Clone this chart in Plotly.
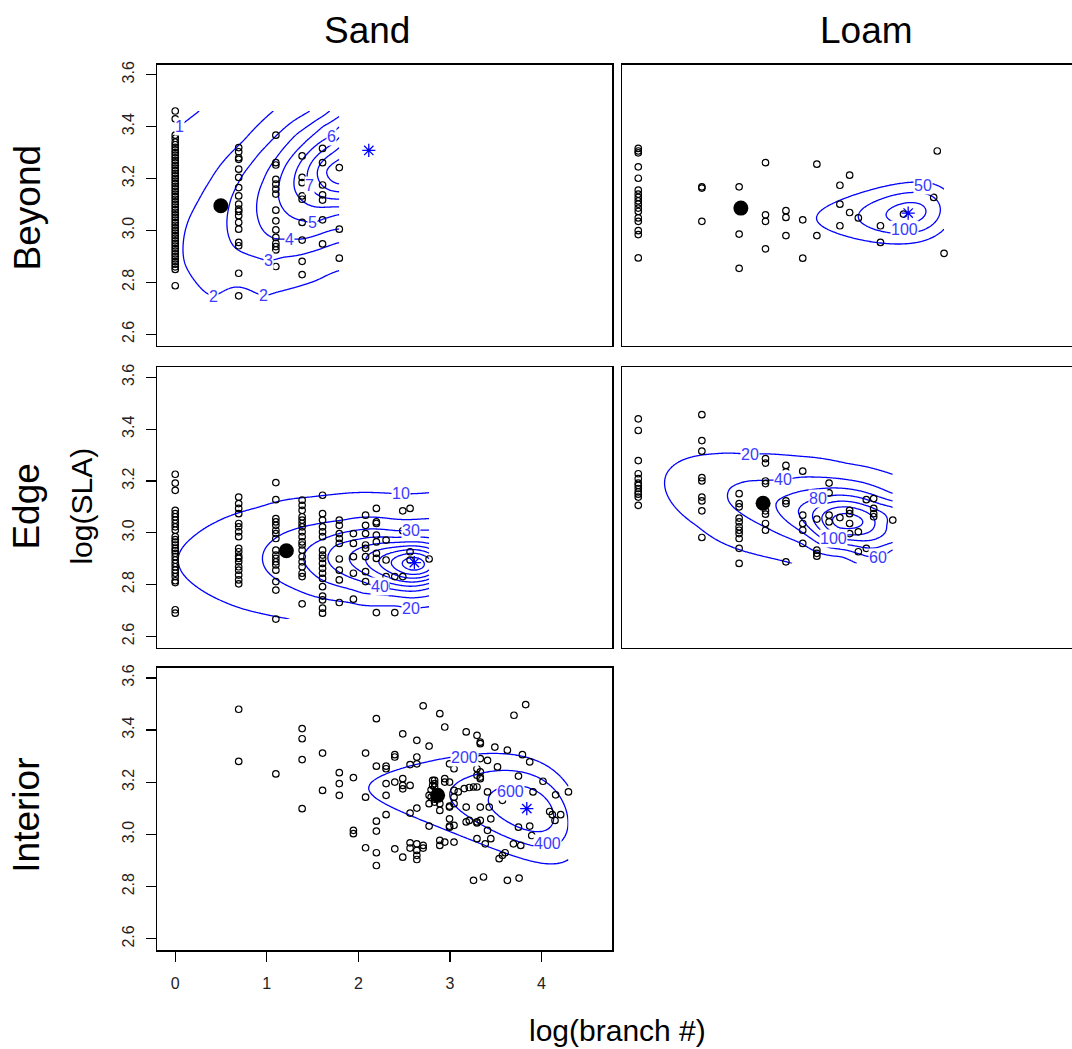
import numpy as np
import plotly.graph_objects as go

# ---------------- data: scatter points (x = log(branch #), y = log(SLA)) ----------------
beyond_sand_cols = {
    0.0: [3.46, 3.43, 3.367, 3.355, 3.34, 3.33, 3.32, 3.31, 3.30, 3.29, 3.28, 3.27, 3.26, 3.25, 3.24,
          3.23, 3.22, 3.21, 3.20, 3.19, 3.18, 3.17, 3.16, 3.15, 3.14, 3.13, 3.12, 3.11, 3.10, 3.09,
          3.08, 3.07, 3.06, 3.05, 3.04, 3.03, 3.02, 3.01, 3.00, 2.99, 2.98, 2.97, 2.96, 2.95, 2.94,
          2.93, 2.92, 2.91, 2.90, 2.89, 2.88, 2.87, 2.86, 2.85, 2.787],
    0.693: [3.319, 3.303, 3.280, 3.274, 3.236, 3.204, 3.165, 3.133, 3.101, 3.082, 3.073, 3.057, 3.031,
            3.005, 2.954, 2.941, 2.835, 2.748],
    1.099: [3.367, 3.261, 3.252, 3.197, 3.178, 3.159, 3.140, 3.078, 3.037, 3.002, 2.973, 2.950, 2.938,
            2.925, 2.861],
    1.386: [3.287, 3.204, 3.184, 3.133, 3.120, 3.031, 2.963, 2.881, 2.830],
    1.609: [3.316, 3.261, 3.175, 3.137, 3.117, 3.041, 2.948],
    1.792: [3.242, 3.005, 2.893],
}
beyond_loam_cols = {
    0.0: [3.316, 3.306, 3.299, 3.245, 3.201, 3.155, 3.140, 3.127, 3.114, 3.101, 3.086, 3.073, 3.048,
          3.035, 2.999, 2.984, 2.894],
    0.693: [3.168, 3.163, 3.035],
    1.099: [3.168, 2.986, 2.854],
    1.386: [3.261, 3.060, 3.035, 2.929],
    1.609: [3.076, 3.050, 2.980],
    1.792: [3.041, 2.893],
    1.946: [3.255, 2.980],
    2.197: [3.174, 3.101, 3.018],
    2.303: [3.213, 3.069],
    2.398: [3.048],
    2.639: [3.018, 2.954],
    2.890: [3.063],
    3.219: [3.127],
    3.258: [3.306],
    3.332: [2.912],
}
edge_sand_cols = {
    0.0: [3.226, 3.192, 3.164, 3.087, 3.074, 3.062, 3.049, 3.036, 3.023, 3.010, 2.985, 2.974, 2.964,
          2.953, 2.940, 2.931, 2.921, 2.908, 2.895, 2.882, 2.869, 2.856, 2.844, 2.831, 2.815, 2.808,
          2.703, 2.690],
    0.693: [3.138, 3.113, 3.094, 3.074, 3.036, 3.023, 3.004, 2.985, 2.940, 2.927, 2.910, 2.901, 2.888,
            2.869, 2.856, 2.837, 2.818, 2.803],
    1.099: [3.194, 3.128, 3.055, 3.042, 3.029, 3.010, 2.997, 2.978, 2.933, 2.914, 2.901, 2.888, 2.876,
            2.856, 2.812, 2.779, 2.667],
    1.386: [3.126, 3.106, 3.087, 3.062, 3.049, 3.036, 3.023, 3.004, 2.985, 2.965, 2.953, 2.933, 2.908,
            2.888, 2.869, 2.844, 2.831, 2.726],
    1.609: [3.145, 3.074, 3.049, 3.023, 3.004, 2.985, 2.933, 2.914, 2.901, 2.882, 2.863, 2.844, 2.824,
            2.792, 2.756, 2.741, 2.709, 2.690],
    1.792: [3.049, 3.029, 2.997, 2.978, 2.959, 2.899, 2.856, 2.818, 2.731],
    1.946: [2.997, 2.959, 2.908, 2.844, 2.744],
    2.079: [3.068, 3.029, 2.997, 2.953, 2.940, 2.908, 2.850, 2.812],
    2.197: [3.094, 3.042, 3.036, 2.991, 2.965, 2.921, 2.901, 2.805, 2.779, 2.692],
    2.303: [2.972, 2.895, 2.831, 2.795],
    2.398: [2.831, 2.692],
    2.485: [3.085, 3.008, 2.831],
    2.565: [3.094, 2.927, 2.895],
    2.773: [2.899],
}
edge_loam_cols = {
    0.0: [3.440, 3.395, 3.279, 3.228, 3.209, 3.192, 3.183, 3.171, 3.158, 3.149, 3.138, 3.106],
    0.693: [3.456, 3.356, 3.315, 3.213, 3.200, 3.138, 3.123, 3.085, 2.982],
    1.099: [3.151, 3.113, 3.100, 3.057, 3.042, 3.023, 3.010, 2.997, 2.978, 2.940, 2.882],
    1.386: [3.286, 3.269, 3.200, 3.190, 3.085, 3.072, 3.036, 3.010],
    1.609: [3.260, 3.235, 3.215, 3.196, 3.123, 3.113, 2.888],
    1.792: [3.238, 3.068, 3.036, 3.010, 2.959],
    1.946: [3.053, 2.933, 2.921, 2.910],
    2.079: [3.192, 3.154, 3.068, 3.042, 2.997],
    2.197: [3.059, 2.997, 2.985],
    2.303: [3.087, 3.074, 3.036, 2.997],
    2.398: [3.004, 2.927],
    2.485: [3.128, 2.940],
    2.565: [3.132, 3.094, 3.074, 3.062],
    2.773: [3.049],
}
interior_sand_cols = {
    0.693: [3.480, 3.280],
    1.099: [3.232],
    1.386: [3.406, 3.367, 3.287, 3.099],
    1.609: [3.312, 3.169],
    1.792: [3.237, 3.195, 3.150],
    1.946: [3.218, 3.016, 3.003],
    2.079: [3.312, 3.143, 2.949],
    2.197: [3.444, 3.262, 3.051, 3.013, 2.930, 2.881],
    2.303: [3.262, 3.252, 3.195, 3.150, 3.076],
    2.398: [3.306, 3.297, 3.201, 2.945],
    2.485: [3.386, 3.214, 3.188, 3.175, 2.913],
    2.565: [3.268, 3.188, 3.082, 2.968, 2.948],
    2.639: [3.361, 3.297, 3.271, 3.101, 2.964, 2.939, 2.920, 2.904],
    2.708: [3.493, 2.958, 2.948],
    2.773: [3.339, 3.150, 3.032, 3.118],
    2.795: [3.171, 3.143],
    2.812: [3.207, 3.188],
    2.833: [3.207, 3.195, 3.182, 3.150, 3.135, 3.124],
    2.890: [3.463, 3.118, 3.092, 2.977, 2.958],
    2.944: [3.412, 3.214, 3.201, 2.971],
    2.996: [3.271, 3.201, 3.109, 3.060, 3.032, 3.105, 3.028],
    3.045: [3.252, 3.169, 3.118, 2.971, 3.143, 3.035],
    3.091: [3.163],
    3.157: [3.176],
    3.178: [3.393, 3.105, 3.048],
    3.212: [3.180, 3.054],
    3.258: [3.182, 2.824],
    3.296: [3.380, 3.252, 3.227, 3.182, 3.048, 2.984, 3.044],
    3.332: [3.354, 3.348, 3.291, 3.220, 3.105, 3.240, 3.214, 3.054],
    3.367: [2.837],
    3.386: [2.964],
    3.411: [3.284, 3.163, 3.016],
    3.430: [3.105],
    3.447: [3.060, 2.984],
    3.491: [3.335],
    3.520: [3.259],
    3.538: [2.907],
    3.574: [2.920, 3.131],
    3.603: [2.930],
    3.628: [3.323, 2.824],
    3.694: [2.964],
    3.700: [3.457],
    3.749: [3.224, 3.028],
    3.756: [2.833],
    3.774: [2.958],
    3.792: [3.306],
    3.828: [3.498],
    3.872: [3.278, 3.032],
    3.894: [2.996],
    3.908: [3.163],
    4.017: [3.204],
    4.028: [2.977],
    4.090: [3.088],
    4.119: [3.076],
    4.148: [3.054],
    4.155: [3.152],
    4.210: [3.076],
    4.295: [3.163],
}

# group means (filled dots) and predicted optima (asterisks)
mean_x = [0.498, 1.118, 1.214, 1.360, 2.866]
mean_y = [3.095, 3.086, 2.931, 3.114, 3.150]
peak_x = [2.114, 2.941, 2.612, 2.280, 3.840]
peak_y = [3.308, 3.067, 2.885, 3.050, 3.099]
show_star = [True, True, True, False, True]

# ---------------- data: fitness contour traces (x, y, level) ----------------
bs_cx = [0.051, 0.153, 0.251,
         0.414, 0.269, 0.106, 0.087, 0.142, 0.251, 0.378, 0.560, 0.741, 1.068, 0.959, 1.104, 1.322, 1.540, 1.795,
         0.887, 0.668, 0.578, 0.567, 0.614, 0.741, 0.923, 1.177, 1.467, 1.024, 1.177, 1.467, 1.795,
         1.104, 0.977, 0.905, 0.894, 0.959, 1.104, 1.322, 1.613, 1.249, 1.395, 1.795,
         1.413, 1.213, 1.133, 1.133, 1.213, 1.395, 1.613, 1.795, 1.504, 1.613, 1.795,
         1.300, 1.704, 1.795, 1.795,
         1.467, 1.795, 1.795,
         1.558, 1.795, 1.795,
         1.650, 1.795, 1.795,
         0.680, 0.000]
bs_cy = [3.402, 3.430, 3.457,
         2.748, 2.782, 2.871, 2.948, 3.037, 3.114, 3.191, 3.280, 3.344, 3.459, 2.749, 2.762, 2.782, 2.807, 2.846,
         2.897, 2.929, 2.986, 3.050, 3.127, 3.216, 3.299, 3.389, 3.459, 2.884, 2.897, 2.916, 2.954,
         2.967, 2.993, 3.044, 3.114, 3.191, 3.280, 3.370, 3.440, 2.967, 2.967, 3.005,
         3.037, 3.069, 3.120, 3.178, 3.255, 3.331, 3.402, 3.440, 3.029, 3.044, 3.063,
         3.165, 3.364, 3.400, 3.090,
         3.172, 3.360, 3.121,
         3.205, 3.320, 3.149,
         3.227, 3.274, 3.178,
         2.750, 2.750]
bs_cz = [1] * 3 + [2] * 15 + [3] * 13 + [4] * 11 + [5] * 11 + [6] * 4 + [7] * 3 + [8] * 3 + [9] * 3 + [1.8, 1.5]

bl_cx = [2.353, 2.941, 2.941, 3.330, 3.330, 3.105,
         2.578, 2.941, 2.905,
         2.731, 2.941, 2.941, 3.213,
         2.833, 2.941, 2.941, 3.058]
bl_cy = [3.069, 3.181, 2.952, 3.178, 2.986, 3.172,
         3.069, 3.140, 3.005,
         3.067, 3.112, 3.027, 3.067,
         3.067, 3.091, 3.044, 3.067]
bl_cz = [50] * 6 + [100] * 3 + [150] * 4 + [200] * 4

es_cx = [2.773, 1.904, 1.468, 0.923, 0.487, 0.196, 0.033, 0.069, 0.233, 0.523, 0.923, 1.250, 2.467,
         2.773, 1.831, 1.468, 1.177, 0.995, 0.952, 0.995, 1.177, 1.468, 1.904, 2.413, 2.576, 2.773,
         2.773, 2.413, 1.685, 1.468, 1.402, 1.468, 1.685, 2.048, 2.773, 2.576,
         2.773, 1.758, 1.667, 1.758, 2.048, 2.237, 2.773,
         2.773, 2.773, 1.904,
         2.773, 2.773, 2.080,
         2.773, 2.773, 2.220,
         2.773, 2.773, 2.360,
         2.480, 2.612]
es_cy = [3.155, 3.154, 3.138, 3.100, 3.049, 2.985, 2.908, 2.850, 2.792, 2.735, 2.690, 2.667, 3.151,
         3.055, 3.049, 3.029, 2.997, 2.946, 2.901, 2.856, 2.805, 2.760, 2.731, 2.718, 2.709, 2.715,
         3.010, 3.008, 2.985, 2.946, 2.901, 2.856, 2.805, 2.767, 2.756, 3.008,
         2.981, 2.953, 2.901, 2.856, 2.812, 2.792, 2.786,
         2.959, 2.805, 2.895,
         2.940, 2.821, 2.893,
         2.921, 2.837, 2.890,
         2.901, 2.856, 2.888,
         2.886, 2.885]
es_cz = [10] * 13 + [20] * 13 + [30] * 10 + [40] * 7 + [50] * 3 + [60] * 3 + [70] * 3 + [80] * 3 + [90, 98]

el_cx = [2.773, 2.288, 1.779, 1.380, 0.834, 0.471, 0.308, 0.290, 0.399, 0.653, 1.016, 1.380, 1.616, 1.216,
         2.773, 1.779, 1.580, 1.198, 0.998, 0.980, 1.125, 1.380, 1.779, 2.215,
         1.507, 2.614, 2.773, 2.773,
         1.743, 1.960, 2.773, 2.773,
         1.900, 2.124, 2.700,
         2.000, 2.580,
         2.120, 2.450,
         2.280]
el_cy = [3.226, 3.267, 3.295, 3.305, 3.305, 3.279, 3.228, 3.177, 3.100, 3.023, 2.946, 2.908, 2.888, 3.303,
         3.151, 3.215, 3.205, 3.200, 3.171, 3.126, 3.074, 3.023, 2.959, 2.908,
         3.119, 2.905, 3.123, 2.937,
         3.081, 3.132, 3.100, 2.960,
         3.070, 2.978, 3.030,
         3.062, 3.040,
         3.056, 3.045,
         3.050]
el_cz = [20] * 14 + [40] * 10 + [60] * 4 + [80] * 4 + [100] * 3 + [120] * 2 + [140] * 2 + [150]

is_cx = [4.300, 4.010, 3.757, 3.393, 3.157, 2.884, 2.630, 2.520, 2.539, 2.630, 2.848, 3.211, 3.575, 3.938, 4.300,
         2.993, 3.284, 3.902, 3.175, 3.538, 4.047, 4.300, 4.064,
         3.266, 3.665, 3.647, 4.190,
         3.684, 4.047, 3.865, 3.865]
is_cy = [3.224, 3.265, 3.291, 3.303, 3.297, 3.306, 3.278, 3.214, 3.150, 3.099, 3.048, 2.984, 2.932, 2.904, 2.892,
         3.182, 3.233, 3.226, 3.079, 3.022, 2.971, 2.958, 2.964,
         3.124, 3.175, 3.054, 3.080,
         3.102, 3.092, 3.121, 3.073]
is_cz = [200] * 15 + [400] * 8 + [600] * 4 + [800] * 4

# how each surface is rebuilt from its traces, and its contour levels (start, end, step)
surface_kind = ["spline", "ellipse", "spline", "spline", "ellipse"]
levels = [(1, 30, 1), (50, 400, 50), (10, 200, 10), (20, 400, 20), (200, 2000, 200)]
labels = [
    [(0.051, 3.402, "1"), (0.414, 2.746, "2"), (0.959, 2.749, "2"), (1.024, 2.884, "3"),
     (1.249, 2.967, "4"), (1.504, 3.029, "5"), (1.704, 3.360, "6"), (1.467, 3.172, "7")],
    [(3.105, 3.172, "50"), (2.905, 3.005, "100")],
    [(2.467, 3.151, "10"), (2.576, 3.008, "30"), (2.237, 2.792, "40"), (2.576, 2.709, "20")],
    [(1.216, 3.303, "20"), (1.580, 3.205, "40"), (1.960, 3.132, "80"), (2.614, 2.905, "60"),
     (2.124, 2.978, "100")],
    [(3.157, 3.297, "200"), (3.666, 3.165, "600"), (4.064, 2.964, "400")],
]

panel_cols = [beyond_sand_cols, beyond_loam_cols, edge_sand_cols, edge_loam_cols, interior_sand_cols]
panel_contours = [(bs_cx, bs_cy, bs_cz), (bl_cx, bl_cy, bl_cz), (es_cx, es_cy, es_cz),
                  (el_cx, el_cy, el_cz), (is_cx, is_cy, is_cz)]

row_labels = ["Beyond", "Edge", "Interior"]
col_labels = ["Sand", "Loam"]
y_ticks = [2.6, 2.8, 3.0, 3.2, 3.4, 3.6]
x_ticks = [0, 1, 2, 3, 4]

# ---------------- layout geometry (pixels) ----------------
W, H = 1072, 1049
col_px = [(157.3, 612.3), (622.3, 1072.0)]
row_px = [(61.7, 343.7), (365.3, 646.7), (666.7, 950.0)]
panel_pos = [(0, 0), (0, 1), (1, 0), (1, 1), (2, 0)]
x_range = [[-0.196, 4.774], [-0.174, 4.726]]
y_range = [2.556, 3.639]
FONT = "Liberation Sans, Arial, sans-serif"
BLUE = "#0000ff"
Y_ASPECT = 2.84  # pixel scale of y relative to x, used for isotropic spline distances


def fit_ellipse(cx, cy, cz, x0, y0, xg, yg):
    u = np.exp(np.asarray(cx, float))
    du = u - np.exp(x0)
    dy = np.asarray(cy, float) - y0
    A = np.column_stack([np.ones_like(du), -du ** 2, -2 * du * dy, -dy ** 2])
    coef, *_ = np.linalg.lstsq(A, np.log(np.asarray(cz, float)), rcond=None)
    U, Y = np.meshgrid(np.exp(xg), yg)
    du = U - np.exp(x0)
    dy = Y - y0
    return np.exp(coef[0] - coef[1] * du ** 2 - 2 * coef[2] * du * dy - coef[3] * dy ** 2)


def tps_kernel(d):
    out = np.zeros_like(d)
    m = d > 0
    out[m] = d[m] ** 2 * np.log(d[m])
    return out


def fit_spline(cx, cy, cz, xg, yg, lam=0.003):
    X = np.asarray(cx, float)
    Y = np.asarray(cy, float) * Y_ASPECT
    T = np.log(np.asarray(cz, float))
    n = len(X)
    K = tps_kernel(np.hypot(X[:, None] - X[None, :], Y[:, None] - Y[None, :]))
    P = np.column_stack([np.ones(n), X, Y])
    A = np.zeros((n + 3, n + 3))
    A[:n, :n] = K + lam * np.eye(n)
    A[:n, n:] = P
    A[n:, :n] = P.T
    sol = np.linalg.solve(A, np.concatenate([T, np.zeros(3)]))
    w, a = sol[:n], sol[n:]
    GX, GY = np.meshgrid(xg, np.asarray(yg) * Y_ASPECT)
    Kg = tps_kernel(np.hypot(GX[..., None] - X, GY[..., None] - Y))
    return np.exp(Kg @ w + a[0] + a[1] * GX + a[2] * GY)


fig = go.Figure()
annotations = []

for i in range(5):
    r, c = panel_pos[i]
    ax = "" if i == 0 else str(i + 1)
    xa, ya = "x" + ax, "y" + ax
    cols = panel_cols[i]
    px = [k for k, v in cols.items() for _ in v]
    py = [y for v in cols.values() for y in v]

    cx, cy, cz = panel_contours[i]
    xg = np.linspace(min(px), max(px), 170)
    yg = np.linspace(min(py), max(py), 170)
    if surface_kind[i] == "spline":
        Z = fit_spline(cx, cy, cz, xg, yg)
    else:
        Z = fit_ellipse(cx, cy, cz, peak_x[i], peak_y[i], xg, yg)
    s, e, st = levels[i]
    fig.add_trace(go.Contour(
        x=xg, y=yg, z=Z, xaxis=xa, yaxis=ya, showscale=False, hoverinfo="skip",
        colorscale=[[0, BLUE], [1, BLUE]],
        contours=dict(coloring="lines", start=s, end=e, size=st, showlabels=False),
        line=dict(color=BLUE, width=1.3, smoothing=1)))

    fig.add_trace(go.Scatter(
        x=px, y=py, mode="markers", xaxis=xa, yaxis=ya, hoverinfo="skip",
        marker=dict(symbol="circle-open", size=6.5, color="black", line=dict(width=1.2, color="black"))))
    fig.add_trace(go.Scatter(
        x=[mean_x[i]], y=[mean_y[i]], mode="markers", xaxis=xa, yaxis=ya, hoverinfo="skip",
        marker=dict(symbol="circle", size=15, color="black")))
    if show_star[i]:
        fig.add_trace(go.Scatter(
            x=[peak_x[i]], y=[peak_y[i]], mode="markers", xaxis=xa, yaxis=ya, hoverinfo="skip",
            marker=dict(symbol="asterisk-open", size=11, color=BLUE, line=dict(width=1.3, color=BLUE))))

    for (lx, ly, txt) in labels[i]:
        annotations.append(dict(x=lx, y=ly, xref=xa, yref=ya, text=txt, showarrow=False,
                                font=dict(family=FONT, size=16, color="#3a3aff"),
                                bgcolor="white", borderpad=0))

    x0p, x1p = col_px[c]
    y0p, y1p = row_px[r]
    left = c == 0
    bottom = (r == 2)
    fig.layout[("xaxis" + ax)] = dict(
        domain=[x0p / W, x1p / W], anchor=ya, range=x_range[c],
        showgrid=False, zeroline=False, showline=True, linecolor="black", linewidth=1.6,
        mirror=True,
        ticks="outside" if bottom else "", ticklen=10, tickwidth=1.3, tickcolor="black",
        tickvals=x_ticks, ticktext=[str(t) for t in x_ticks], showticklabels=bottom,
        tickfont=dict(family=FONT, size=16, color="#222"), ticklabelstandoff=8)
    fig.layout[("yaxis" + ax)] = dict(
        domain=[1 - y1p / H, 1 - y0p / H], anchor=xa, range=y_range,
        showgrid=False, zeroline=False, showline=True, linecolor="black", linewidth=1.6,
        mirror=left,
        ticks="outside" if left else "", ticklen=10, tickwidth=1.3, tickcolor="black",
        tickvals=y_ticks, ticktext=["%.1f" % t for t in y_ticks], showticklabels=left,
        tickangle=-90, tickfont=dict(family=FONT, size=16, color="#222"), ticklabelstandoff=5)


def ptxt(text, xpx, ypx, size, angle=0):
    annotations.append(dict(x=xpx / W, y=1 - ypx / H, xref="paper", yref="paper", text=text,
                            showarrow=False, textangle=angle, xanchor="center", yanchor="middle",
                            font=dict(family=FONT, size=size, color="black")))


ptxt(col_labels[0], 367, 28, 37)
ptxt(col_labels[1], 866, 28, 37)
ptxt(row_labels[0], 27, 205, 37, -90)
ptxt(row_labels[1], 27, 505, 37, -90)
ptxt(row_labels[2], 27, 815, 37, -90)
ptxt("log(SLA)", 82, 505, 30, -90)
ptxt("log(branch #)", 617, 1030, 30)

fig.update_layout(width=W, height=H, autosize=False, margin=dict(l=0, r=0, t=0, b=0),
                  paper_bgcolor="white", plot_bgcolor="white", showlegend=False,
                  hovermode=False, annotations=annotations)
fig.write_html("out.html", config={"displayModeBar": False, "staticPlot": True},
               post_script="document.body.style.margin='0';document.body.style.overflow='hidden';")
